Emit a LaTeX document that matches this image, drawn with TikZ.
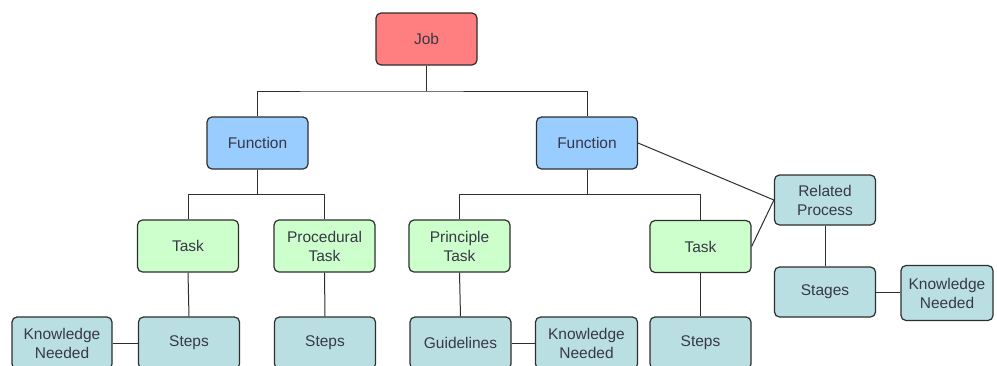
\documentclass[tikz,border=0pt]{standalone}
\usepackage{fontspec}
\setmainfont{Liberation Sans}
\usetikzlibrary{calc}
\definecolor{jobred}{HTML}{FF7F80}
\definecolor{funcblue}{HTML}{99CCFF}
\definecolor{taskgreen}{HTML}{CCFFCC}
\definecolor{stepteal}{HTML}{BADFE3}
\definecolor{inkgrey}{HTML}{383846}
\definecolor{linegrey}{HTML}{2E2E2E}
\begin{document}
\begin{tikzpicture}[x=1pt,y=-1pt,
  box/.style={draw=linegrey, line width=1.2pt, rounded corners=5pt,
    minimum width=101pt, minimum height=52pt, inner sep=2pt,
    align=center, text=inkgrey, font=\fontsize{15.5}{19}\selectfont},
  jobbox/.style={box, fill=jobred},
  funcbox/.style={box, fill=funcblue},
  taskbox/.style={box, fill=taskgreen},
  tealbox/.style={box, fill=stepteal},
  link/.style={draw=linegrey, line width=1pt}]
\clip (0,0) rectangle (997,365);
\fill[white] (0,0) rectangle (997,365);

% top levels
\node[jobbox]  (job) at (426.5,39) {Job};
\node[funcbox] (f1)  at (257.5,143) {Function};
\node[funcbox] (f2)  at (587,143) {Function};

% task level
\node[taskbox] (t1) at (188,246) {Task};
\node[taskbox] (pt) at (324.5,246) {Procedural\\Task};
\node[taskbox] (pr) at (459.5,246) {Principle\\Task};
\node[taskbox] (t2) at (700.5,246.5) {Task};

% related process branch
\node[tealbox, minimum height=50pt] (rp) at (825,200) {Related\\Process};
\node[tealbox, minimum height=50pt] (st) at (825,292) {Stages};
\node[tealbox, minimum width=92pt, minimum height=55pt] (kn3) at (947,293) {Knowledge\\Needed};

% bottom row
\node[tealbox, minimum width=100pt] (kn1) at (62,343) {Knowledge\\Needed};
\node[tealbox] (s1)  at (189,343) {Steps};
\node[tealbox] (s2)  at (325,343) {Steps};
\node[tealbox] (gl)  at (460.5,343) {Guidelines};
\node[tealbox, minimum width=102pt] (kn2) at (586.5,343) {Knowledge\\Needed};
\node[tealbox] (s3)  at (700.5,343) {Steps};

% tree connectors
\coordinate (b0) at ($(job.south)!.5!(f1.north)$);
\draw[link] (job.south) -- (job.south |- b0);
\draw[link] (f1.north) |- (b0) -| (f2.north);

\coordinate (b1) at ($(f1.south)!.5!(t1.north)$);
\draw[link] (f1.south) -- (f1.south |- b1);
\draw[link] (t1.north) |- (b1) -| (pt.north);

\coordinate (b2) at ($(f2.south)!.5!(pr.north)$);
\draw[link] (f2.south) -- (f2.south |- b2);
\draw[link] (pr.north) |- (b2) -| (t2.north);

\draw[link] (t1.south) -- (s1.north);
\draw[link] (pt.south) -- (s2.north);
\draw[link] (pr.south) -- (gl.north);
\draw[link] (t2.south) -- (s3.north);
\draw[link] (rp.south) -- (st.north);

% side links
\draw[link] (f2.east) -- (rp.west);
\draw[link] (t2.east) -- (rp.west);
\draw[link] (kn1.east) -- (s1.west);
\draw[link] (gl.east) -- (kn2.west);
\draw[link] (st.east) -- (kn3.west |- st.east);
\end{tikzpicture}
\end{document}
